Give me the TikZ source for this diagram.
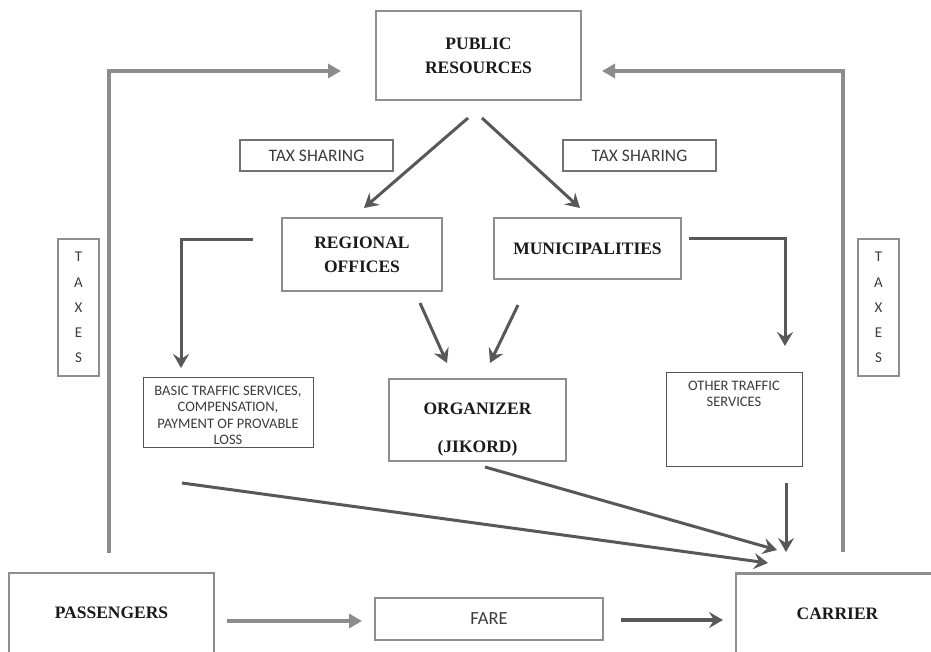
\documentclass[tikz,border=0pt]{standalone}
\usepackage{fontspec}
\setmainfont{Liberation Serif}
\newfontfamily\labelsans{Carlito}
\usetikzlibrary{arrows.meta}

\definecolor{boxgray}{HTML}{8E8E8E}
\definecolor{tagray}{HTML}{727272}
\definecolor{thingray}{HTML}{555555}
\definecolor{flowgray}{HTML}{8C8C8C}
\definecolor{darkflow}{HTML}{585858}
\definecolor{txt}{HTML}{1A1A1A}

\tikzset{
  bigbox/.style={draw=boxgray, line width=2.6pt, fill=white, align=center,
    text=txt, inner sep=0pt, font=\bfseries\fontsize{17.5}{24}\selectfont},
  tagbox/.style={draw=tagray, line width=2.6pt, fill=white, align=center,
    text=txt!85, inner sep=0pt, font=\labelsans\fontsize{17.5}{20}\selectfont},
  notebox/.style={draw=thingray, line width=0.9pt, fill=white,
    text=txt!85, inner sep=0pt, font=\labelsans\fontsize{14.5}{16.5}\selectfont},
  taxbox/.style={draw=boxgray, line width=2.6pt, fill=white, align=center,
    text=txt!85, inner sep=0pt, font=\labelsans\fontsize{15}{25.2}\selectfont},
  feedback/.style={draw=flowgray, line width=3.8pt,
    -{Triangle[length=13pt,width=14pt]}},
  inflow/.style={draw=darkflow, line width=3pt,
    -{Stealth[length=14pt,width=16pt,inset=5pt]}},
}

\begin{document}
\begin{tikzpicture}[x=1pt,y=-1pt]
\useasboundingbox (0,0) rectangle (931,652);
\clip (0,0) rectangle (931,652);

% ---- boxes ----
\node[bigbox, minimum width=205pt, minimum height=89pt] (pr) at (478.5,55.5)
  {PUBLIC\\RESOURCES};
\node[tagbox, minimum width=153pt, minimum height=31pt] (tsl) at (316.5,155.5)
  {TAX SHARING};
\node[tagbox, minimum width=153pt, minimum height=31pt] (tsr) at (639.5,155.5)
  {TAX SHARING};
\node[bigbox, minimum width=160pt, minimum height=73pt] (reg) at (362,254.5)
  {REGIONAL\\OFFICES};
\node[bigbox, minimum width=187pt, minimum height=61pt] (mun) at (587.5,248.5)
  {MUNICIPALITIES};
\node[notebox, minimum width=170pt, minimum height=70pt] (basic) at (228,412)
  {\parbox[c][64pt][t]{166pt}{\centering\vspace*{6pt}BASIC TRAFFIC SERVICES,\\
   COMPENSATION,\\ PAYMENT OF PROVABLE\\ LOSS}};
\node[bigbox, minimum width=177pt, minimum height=82pt] (org) at (477.5,420)
  {\parbox[c][76pt][t]{170pt}{\centering\vspace*{21pt}ORGANIZER\\[14pt](JIKORD)}};
\node[notebox, minimum width=136pt, minimum height=94pt] (oth) at (734,419)
  {\parbox[c][88pt][t]{130pt}{\centering\vspace*{6pt}OTHER TRAFFIC\\ SERVICES}};
\node[taxbox, minimum width=41pt, minimum height=137pt] (taxl) at (78.5,307.5)
  {T\\A\\X\\E\\S};
\node[taxbox, minimum width=41pt, minimum height=137pt] (taxr) at (878.5,307.5)
  {T\\A\\X\\E\\S};
\node[bigbox, minimum width=205pt, minimum height=80pt] (pas) at (111.5,613)
  {PASSENGERS};
\node[tagbox, line width=2.2pt, draw=boxgray, minimum width=228pt, minimum height=42pt,
  font=\labelsans\fontsize{18.5}{20}\selectfont] (fare) at (489,619) {FARE};
\node[bigbox, minimum width=203pt, minimum height=80pt] (car) at (837.5,613.5)
  {CARRIER};

% ---- connector end points ----
\coordinate (lfoot) at (109,553);
\coordinate (lhead) at (341,71);
\coordinate (rfoot) at (843,552);
\coordinate (rhead) at (602,71);
\coordinate (prl) at (468,118);
\coordinate (prr) at (482,118);
\coordinate (regin) at (364,208);
\coordinate (munin) at (580,208);
\coordinate (regout) at (253,240);
\coordinate (basicin) at (181,368);
\coordinate (munout) at (689,239);
\coordinate (othin) at (785,346);
\coordinate (regdown) at (420,303);
\coordinate (mundown) at (518,305);
\coordinate (orgl) at (447,363);
\coordinate (orgr) at (490,363);
\coordinate (basicout) at (182,483);
\coordinate (orgout) at (485,467);
\coordinate (othout) at (786,483);
\coordinate (carA) at (768,563);
\coordinate (carB) at (777,550);
\coordinate (carC) at (786,552);
\coordinate (pasout) at (227,621);
\coordinate (farein) at (362,621);
\coordinate (fareout) at (621,620);
\coordinate (carin) at (723,620);

% ---- taxes back to public resources ----
\draw[feedback] (lfoot) |- (lhead);
\draw[feedback] (rfoot) |- (rhead);

% ---- tax sharing ----
\draw[inflow] (prl) -- (regin);
\draw[inflow] (prr) -- (munin);

% ---- funding of traffic services ----
\draw[inflow] (regout) -| (basicin);
\draw[inflow] (munout) -| (othin);
\draw[inflow] (regdown) -- (orgl);
\draw[inflow] (mundown) -- (orgr);

% ---- payments to the carrier ----
\draw[inflow] (basicout) -- (carA);
\draw[inflow] (orgout) -- (carB);
\draw[inflow] (othout) -- (carC);

% ---- fare ----
\draw[feedback, line width=4.8pt] (pasout) -- (farein);
\draw[inflow, line width=3.8pt] (fareout) -- (carin);
\end{tikzpicture}
\end{document}
